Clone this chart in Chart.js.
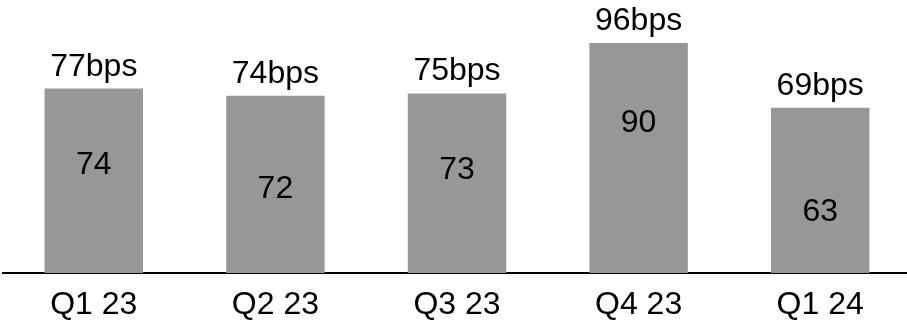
<!DOCTYPE html>
<html>
<head>
<meta charset="utf-8">
<script src="https://cdn.jsdelivr.net/npm/chart.js@4/dist/chart.umd.min.js"></script>
<style>
  html, body { margin: 0; padding: 0; background: #ffffff; overflow: hidden; }
  #wrap { position: relative; width: 911px; height: 321px; }
</style>
</head>
<body>
<div id="wrap"><canvas id="chart"></canvas></div>
<script>
// Quarters on the x axis
const quarters = ['Q1 23', 'Q2 23', 'Q3 23', 'Q4 23', 'Q1 24'];
// Bar heights, in basis points (also printed above each bar)
const bpsValues = [77, 74, 75, 96, 69];
// Figures printed inside each bar
const innerValues = [74, 72, 73, 90, 63];

const FONT = "'Liberation Sans', Arial, sans-serif";
const FONT_SIZE = 32;

// Vertical level (in axis units) at which each inner figure sits
const innerLabelLevel = [46, 36, 44, 63.5, 26.3];

const labelPlugin = {
  id: 'barLabels',
  afterDatasetsDraw(chart) {
    const ctx = chart.ctx;
    const meta = chart.getDatasetMeta(0);
    const yScale = chart.scales.y;
    const capHalf = FONT_SIZE * 0.716 / 2;
    ctx.save();
    ctx.fillStyle = '#000000';
    ctx.font = FONT_SIZE + 'px ' + FONT;
    ctx.textAlign = 'center';
    ctx.textBaseline = 'alphabetic';
    meta.data.forEach((bar, i) => {
      // value above the bar
      ctx.fillText(bpsValues[i] + 'bps', bar.x, bar.y - 13);
      // figure inside the bar
      const yMid = yScale.getPixelForValue(innerLabelLevel[i]);
      ctx.fillText(String(innerValues[i]), bar.x, yMid + capHalf);
    });
    ctx.restore();
  }
};

new Chart(document.getElementById('chart'), {
  type: 'bar',
  data: {
    labels: quarters,
    datasets: [{
      data: bpsValues,
      backgroundColor: '#979797',
      borderWidth: 0,
      categoryPercentage: 1,
      barPercentage: 0.542
    }]
  },
  options: {
    responsive: true,
    maintainAspectRatio: false,
    animation: false,
    devicePixelRatio: 1,
    layout: { padding: { left: 3, right: 0, top: 33.5, bottom: 0 } },
    plugins: { legend: { display: false }, tooltip: { enabled: false } },
    scales: {
      x: {
        grid: { display: false, drawTicks: false, tickLength: 0 },
        border: { display: true, color: '#000000', width: 2 },
        ticks: {
          color: '#000000',
          padding: 12.5,
          maxRotation: 0,
          autoSkip: false,
          font: { family: FONT, size: FONT_SIZE }
        },
        afterFit(scale) { scale.height = 48; }
      },
      y: {
        display: false,
        min: 0,
        max: 100
      }
    }
  },
  plugins: [labelPlugin]
});
</script>
</body>
</html>
